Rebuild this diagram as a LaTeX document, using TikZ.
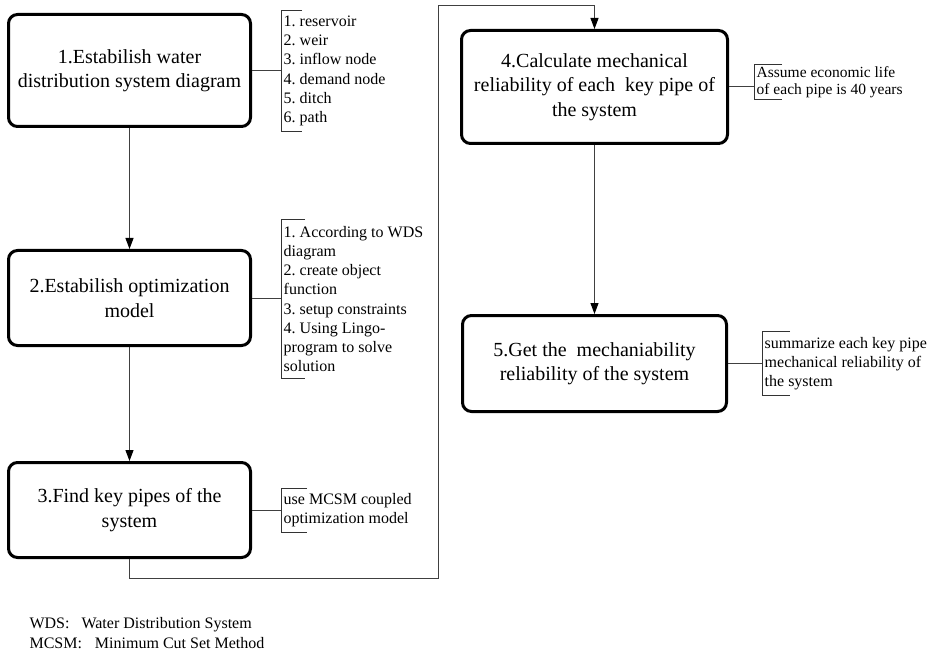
\documentclass[tikz,border=0pt]{standalone}
\usepackage{fontspec}
\setmainfont{Liberation Serif}
\usetikzlibrary{arrows.meta,calc}
\frenchspacing
\begin{document}
\begin{tikzpicture}[x=1pt,y=-1pt,
  stepbox/.style={draw,line width=3pt,rounded corners=9pt,align=center,
    font=\fontsize{20}{24.5}\selectfont,inner sep=0pt},
  notebox/.style={anchor=west,align=left,inner xsep=2.5pt,inner ysep=0pt,
    font=\fontsize{16}{19.2}\selectfont},
  link/.style={draw=black!75,line width=1pt},
  flow/.style={link,-{Triangle[length=11pt,width=8pt,color=black]}},
  bracket/.style={draw=black!80,line width=1pt}]
\useasboundingbox (0,0) rectangle (934,652);

% main steps
\node[stepbox,minimum width=242pt,minimum height=112pt] (b1) at (129.5,70.5)
  {1.Estabilish water\\distribution system diagram};
\node[stepbox,minimum width=242pt,minimum height=95pt] (b2) at (129.5,298)
  {2.Estabilish optimization\\model};
\node[stepbox,minimum width=242pt,minimum height=95pt] (b3) at (129.5,510)
  {3.Find key pipes of the\\system};
\node[stepbox,minimum width=266pt,minimum height=113pt] (b4) at (594.5,87)
  {4.Calculate mechanical\\reliability of each\ \ key pipe of\\the system};
\node[stepbox,minimum width=264pt,minimum height=96pt] (b5) at (594.5,363.5)
  {5.Get the\ \ mechaniability\\reliability of the system};

% notes
\node[notebox,minimum height=120pt] (n1) at (281,71)
  {1. reservoir\\2. weir\\3. inflow node\\4. demand node\\5. ditch\\6. path};
\node[notebox,minimum height=158pt] (n2) at (281,299)
  {1. According to WDS\\diagram\\2. create object\\function\\3. setup constraints\\4. Using Lingo-\\program to solve\\solution};
\node[notebox,minimum height=43pt] (n3) at (281,510.5)
  {use MCSM coupled\\optimization model};
\node[notebox,minimum height=34pt,font=\fontsize{15.5}{17.5}\selectfont] (n4) at (754,82)
  {Assume economic life\\of each pipe is 40 years};
\node[notebox,minimum height=63pt] (n5) at (762,363.5)
  {summarize each key pipe\\mechanical reliability of\\the system};

\foreach \n/\t in {n1/21,n2/24,n3/26,n4/28,n5/28}{
  \draw[bracket] ([xshift=\t pt]\n.north west) -- (\n.north west) -- (\n.south west) -- ([xshift=\t pt]\n.south west);
}

% note connectors
\draw[link] (b1.east) -- (b1.east -| n1.west);
\draw[link] (b2.east) -- (b2.east -| n2.west);
\draw[link] (b3.east) -- (b3.east -| n3.west);
\draw[link] (b4.east) -- (b4.east -| n4.west);
\draw[link] (b5.east) -- (b5.east -| n5.west);

% flow
\coordinate (cA) at (438,578);
\coordinate (cB) at (438,6);
\draw[flow] (b1.south) -- (b2.north);
\draw[flow] (b2.south) -- (b3.north);
\draw[flow] (b3.south) |- (cA) -- (cB) -| (b4.north);
\draw[flow] (b4.south) -- (b5.north);

% legend
\node[anchor=base west,font=\fontsize{16}{20}\selectfont] (l1) at (26,628)
  {WDS:\hspace{12pt}Water Distribution System};
\node[anchor=base west,font=\fontsize{16}{20}\selectfont] (l2) at (26,648)
  {MCSM:\hspace{13pt}Minimum Cut Set Method};
\end{tikzpicture}
\end{document}
